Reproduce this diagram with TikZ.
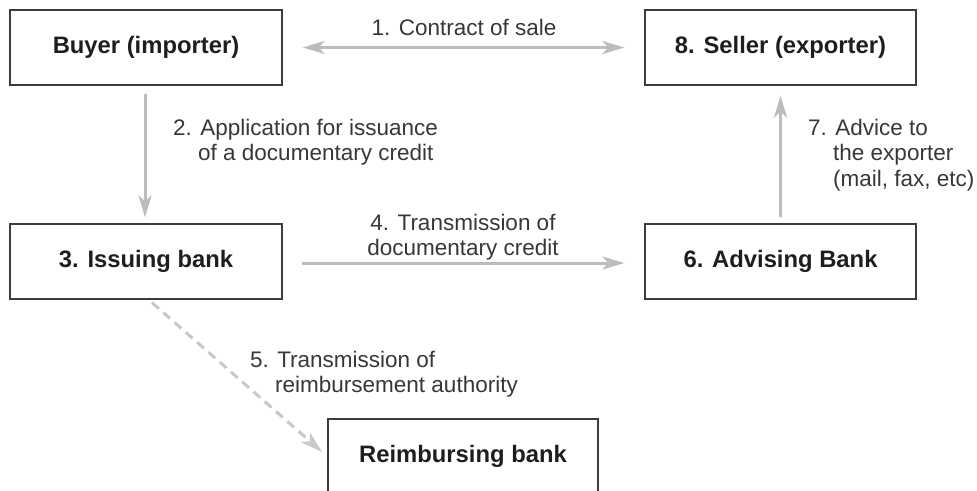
\documentclass[tikz,border=0pt]{standalone}
\usepackage{fontspec}
\setmainfont{Liberation Sans}
\usetikzlibrary{arrows.meta}

\definecolor{boxline}{RGB}{60,60,60}
\definecolor{boxtext}{RGB}{30,30,30}
\definecolor{lbltext}{RGB}{55,55,55}
\definecolor{flow}{RGB}{188,188,192}
\definecolor{flowlight}{RGB}{200,200,204}

% multi-line labels whose baseline is that of their first line
\newcommand\lblleft[1]{\vtop{\baselineskip=25.5pt\halign{##\hfil\cr#1\crcr}}}
\newcommand\lblcenter[1]{\vtop{\baselineskip=25.5pt\halign{\hfil##\hfil\cr#1\crcr}}}

\begin{document}
\begin{tikzpicture}[x=1pt,y=-1pt,
  >={Stealth[length=22pt,width=13pt,inset=6pt]},
  party/.style={draw=boxline, line width=1.3pt, minimum width=272pt,
    minimum height=75pt, inner sep=0pt, text=boxtext,
    font=\fontsize{23.8pt}{28pt}\selectfont\bfseries},
  lbl/.style={inner sep=0pt, text=lbltext,
    font=\fontsize{22.5pt}{25.5pt}\selectfont},
  flowarrow/.style={draw=flow, line width=3pt},
  dashflow/.style={draw=flowlight, line width=3pt, dash pattern=on 9pt off 6pt}]

\useasboundingbox (0,0) rectangle (977,490);
\clip (0,0) rectangle (977,490);

% parties and banks
\node[party] (buyer) at (146,47.5) {Buyer (importer)};
\node[party, minimum width=271pt] (seller) at (780.5,47.5) {8. Seller (exporter)};
\node[party] (issuing) at (146,261.5) {3. Issuing bank};
\node[party, minimum width=271pt] (advising) at (780.5,261.5) {6. Advising Bank};
\node[party, minimum width=270pt] (reimb) at (463,456.5) {Reimbursing bank};

% flows between them
\draw[flowarrow,<->,shorten <=20pt,shorten >=20pt] (buyer) -- (seller);
\draw[flowarrow,->,shorten <=8pt,shorten >=6pt]
  ([xshift=-1pt]buyer.south) -- ([xshift=-1pt]issuing.north);
\draw[flowarrow,->,shorten <=19pt,shorten >=20pt]
  ([yshift=-1.5pt]issuing.east) -- ([yshift=-1.5pt]advising.west);
\draw[flowarrow,->,shorten <=6pt,shorten >=10pt] (advising.north) -- (seller.south);
\draw[dashflow,->,shorten >=7pt]
  ([xshift=6pt,yshift=-3pt]issuing.south) -- (reimb.west);

% step labels
\node[lbl, anchor=base] (l1) at (464,35) {1. Contract of sale};
\node[lbl, anchor=base west] (l2) at (173,135)
  {\lblleft{2. Application for issuance\cr\hphantom{2.\ }of a documentary credit}};
\node[lbl, anchor=base] (l4) at (463,230)
  {\lblcenter{4. Transmission of\cr documentary credit}};
\node[lbl, anchor=base west] (l5) at (250,367)
  {\lblleft{5. Transmission of\cr\hphantom{5.\ }reimbursement authority}};
\node[lbl, anchor=base west] (l7) at (808,135)
  {\lblleft{7. Advice to\cr\hphantom{7.\ }the exporter\cr\hphantom{7.\ }(mail, fax, etc)}};

\end{tikzpicture}
\end{document}
